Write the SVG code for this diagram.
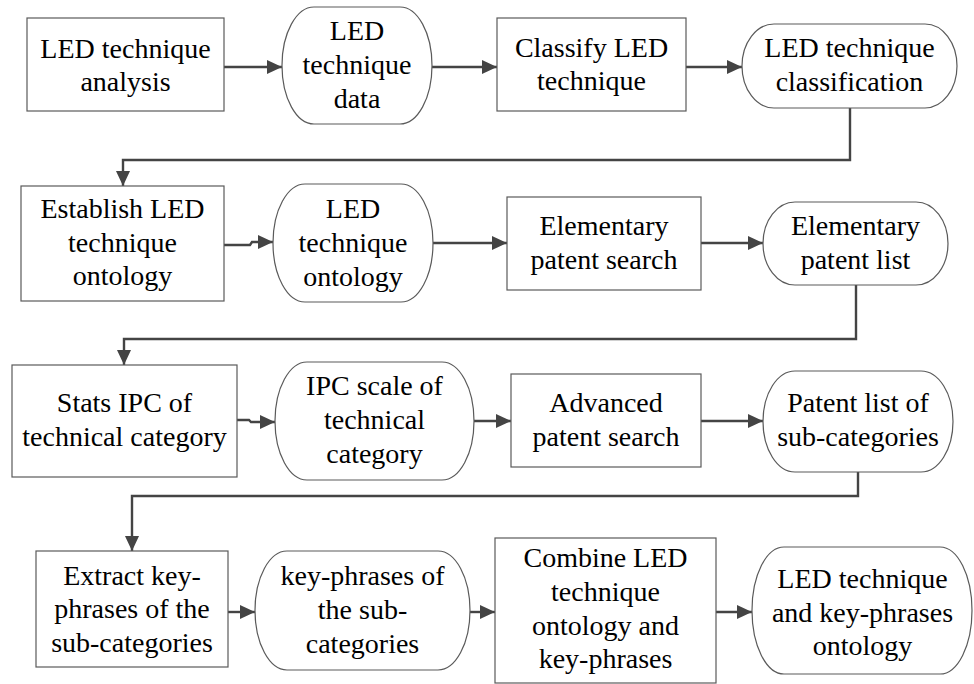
<svg xmlns="http://www.w3.org/2000/svg" width="974" height="684" viewBox="0 0 974 684">
  <style>
    .box { fill: #ffffff; stroke: #5a5a5a; stroke-width: 1.2; }
    .wire { fill: none; stroke: #444444; stroke-width: 2.4; }
  </style>
  <defs>
    <marker id="head" markerUnits="userSpaceOnUse" markerWidth="16" markerHeight="14" refX="15" refY="7" orient="auto">
      <path d="M0,0 L15,7 L0,14 Z" fill="#444444"/>
    </marker>
  </defs>
  <rect width="974" height="684" fill="#ffffff"/>

  <!-- connectors -->
  <g id="connectors">
    <path class="wire" d="M224,67 H282" marker-end="url(#head)"/>
    <path class="wire" d="M432,67 H497" marker-end="url(#head)"/>
    <path class="wire" d="M686,67 H742" marker-end="url(#head)"/>
    <path class="wire" d="M850,108 V160 H123 V186" marker-end="url(#head)"/>
    <path class="wire" d="M224,245 H250 L252,242 H273" marker-end="url(#head)"/>
    <path class="wire" d="M433,243 H507" marker-end="url(#head)"/>
    <path class="wire" d="M701,243 H763" marker-end="url(#head)"/>
    <path class="wire" d="M856,285 V339 H124 V365" marker-end="url(#head)"/>
    <path class="wire" d="M237,420 H249 L251,422 H275" marker-end="url(#head)"/>
    <path class="wire" d="M474,421 H511" marker-end="url(#head)"/>
    <path class="wire" d="M701,421 H763" marker-end="url(#head)"/>
    <path class="wire" d="M858,472 V496 H132 V551" marker-end="url(#head)"/>
    <path class="wire" d="M228,612 H255" marker-end="url(#head)"/>
    <path class="wire" d="M470,612 H495" marker-end="url(#head)"/>
    <path class="wire" d="M716,612 H752" marker-end="url(#head)"/>
  </g>

  <!-- row 1 -->
  <g id="led-technique-analysis">
    <rect class="box" x="27" y="18" width="197" height="93"/>
    <text x="125.5" y="58" font-size="28" text-anchor="middle" style="font-family:'Liberation Serif', serif">LED technique</text>
    <text x="125.5" y="91" font-size="28" text-anchor="middle" style="font-family:'Liberation Serif', serif">analysis</text>
  </g>
  <g id="led-technique-data">
    <path class="box" d="M314,7 H400 A32,58.5 0 0 1 400,124 H314 A32,58.5 0 0 1 314,7 Z"/>
    <text x="357" y="40" font-size="28" text-anchor="middle" style="font-family:'Liberation Serif', serif">LED</text>
    <text x="357" y="74" font-size="28" text-anchor="middle" style="font-family:'Liberation Serif', serif">technique</text>
    <text x="357" y="108" font-size="28" text-anchor="middle" style="font-family:'Liberation Serif', serif">data</text>
  </g>
  <g id="classify-led-technique">
    <rect class="box" x="497" y="18" width="189" height="93"/>
    <text x="591.5" y="57" font-size="28" text-anchor="middle" style="font-family:'Liberation Serif', serif">Classify LED</text>
    <text x="591.5" y="90" font-size="28" text-anchor="middle" style="font-family:'Liberation Serif', serif">technique</text>
  </g>
  <g id="led-technique-classification">
    <path class="box" d="M774,24 H925 A32,42 0 0 1 925,108 H774 A32,42 0 0 1 774,24 Z"/>
    <text x="849.5" y="57" font-size="28" text-anchor="middle" style="font-family:'Liberation Serif', serif">LED technique</text>
    <text x="849.5" y="91" font-size="28" text-anchor="middle" style="font-family:'Liberation Serif', serif">classification</text>
  </g>

  <!-- row 2 -->
  <g id="establish-led-technique-ontology">
    <rect class="box" x="21" y="186" width="203" height="115"/>
    <text x="122.5" y="218" font-size="28" text-anchor="middle" style="font-family:'Liberation Serif', serif">Establish LED</text>
    <text x="122.5" y="252" font-size="28" text-anchor="middle" style="font-family:'Liberation Serif', serif">technique</text>
    <text x="122.5" y="285" font-size="28" text-anchor="middle" style="font-family:'Liberation Serif', serif">ontology</text>
  </g>
  <g id="led-technique-ontology">
    <path class="box" d="M305,184 H401 A32,59 0 0 1 401,302 H305 A32,59 0 0 1 305,184 Z"/>
    <text x="353" y="218" font-size="28" text-anchor="middle" style="font-family:'Liberation Serif', serif">LED</text>
    <text x="353" y="252" font-size="28" text-anchor="middle" style="font-family:'Liberation Serif', serif">technique</text>
    <text x="353" y="286" font-size="28" text-anchor="middle" style="font-family:'Liberation Serif', serif">ontology</text>
  </g>
  <g id="elementary-patent-search">
    <rect class="box" x="507" y="197" width="194" height="93"/>
    <text x="604" y="235" font-size="28" text-anchor="middle" style="font-family:'Liberation Serif', serif">Elementary</text>
    <text x="604" y="269" font-size="28" text-anchor="middle" style="font-family:'Liberation Serif', serif">patent search</text>
  </g>
  <g id="elementary-patent-list">
    <path class="box" d="M795,202 H916 A32,41.5 0 0 1 916,285 H795 A32,41.5 0 0 1 795,202 Z"/>
    <text x="855.5" y="235" font-size="28" text-anchor="middle" style="font-family:'Liberation Serif', serif">Elementary</text>
    <text x="855.5" y="269" font-size="28" text-anchor="middle" style="font-family:'Liberation Serif', serif">patent list</text>
  </g>

  <!-- row 3 -->
  <g id="stats-ipc-of-technical-category">
    <rect class="box" x="12" y="365" width="225" height="112"/>
    <text x="124.5" y="412" font-size="28" text-anchor="middle" style="font-family:'Liberation Serif', serif">Stats IPC of</text>
    <text x="124.5" y="446" font-size="28" text-anchor="middle" style="font-family:'Liberation Serif', serif">technical category</text>
  </g>
  <g id="ipc-scale-of-technical-category">
    <path class="box" d="M307,362 H442 A32,59 0 0 1 442,480 H307 A32,59 0 0 1 307,362 Z"/>
    <text x="374.5" y="395" font-size="28" text-anchor="middle" style="font-family:'Liberation Serif', serif">IPC scale of</text>
    <text x="374.5" y="429" font-size="28" text-anchor="middle" style="font-family:'Liberation Serif', serif">technical</text>
    <text x="374.5" y="463" font-size="28" text-anchor="middle" style="font-family:'Liberation Serif', serif">category</text>
  </g>
  <g id="advanced-patent-search">
    <rect class="box" x="511" y="374" width="190" height="93"/>
    <text x="606" y="412" font-size="28" text-anchor="middle" style="font-family:'Liberation Serif', serif">Advanced</text>
    <text x="606" y="446" font-size="28" text-anchor="middle" style="font-family:'Liberation Serif', serif">patent search</text>
  </g>
  <g id="patent-list-of-sub-categories">
    <path class="box" d="M795,371 H921 A32,50.5 0 0 1 921,472 H795 A32,50.5 0 0 1 795,371 Z"/>
    <text x="858" y="412" font-size="28" text-anchor="middle" style="font-family:'Liberation Serif', serif">Patent list of</text>
    <text x="858" y="446" font-size="28" text-anchor="middle" style="font-family:'Liberation Serif', serif">sub-categories</text>
  </g>

  <!-- row 4 -->
  <g id="extract-key-phrases">
    <rect class="box" x="36" y="551" width="192" height="116"/>
    <text x="132" y="585" font-size="28" text-anchor="middle" style="font-family:'Liberation Serif', serif">Extract key-</text>
    <text x="132" y="618" font-size="28" text-anchor="middle" style="font-family:'Liberation Serif', serif">phrases of the</text>
    <text x="132" y="652" font-size="28" text-anchor="middle" style="font-family:'Liberation Serif', serif">sub-categories</text>
  </g>
  <g id="key-phrases-of-sub-categories">
    <path class="box" d="M287,551 H438 A32,59.5 0 0 1 438,670 H287 A32,59.5 0 0 1 287,551 Z"/>
    <text x="362.5" y="585" font-size="28" text-anchor="middle" style="font-family:'Liberation Serif', serif">key-phrases of</text>
    <text x="362.5" y="619" font-size="28" text-anchor="middle" style="font-family:'Liberation Serif', serif">the sub-</text>
    <text x="362.5" y="653" font-size="28" text-anchor="middle" style="font-family:'Liberation Serif', serif">categories</text>
  </g>
  <g id="combine-led-technique-ontology-and-key-phrases">
    <rect class="box" x="495" y="538" width="221" height="145"/>
    <text x="605.5" y="567" font-size="28" text-anchor="middle" style="font-family:'Liberation Serif', serif">Combine LED</text>
    <text x="605.5" y="601" font-size="28" text-anchor="middle" style="font-family:'Liberation Serif', serif">technique</text>
    <text x="605.5" y="635" font-size="28" text-anchor="middle" style="font-family:'Liberation Serif', serif">ontology and</text>
    <text x="605.5" y="668" font-size="28" text-anchor="middle" style="font-family:'Liberation Serif', serif">key-phrases</text>
  </g>
  <g id="led-technique-and-key-phrases-ontology">
    <path class="box" d="M784,547 H940 A32,63.5 0 0 1 940,674 H784 A32,63.5 0 0 1 784,547 Z"/>
    <text x="862.5" y="588" font-size="28" text-anchor="middle" style="font-family:'Liberation Serif', serif">LED technique</text>
    <text x="862.5" y="622" font-size="28" text-anchor="middle" style="font-family:'Liberation Serif', serif">and key-phrases</text>
    <text x="862.5" y="655" font-size="28" text-anchor="middle" style="font-family:'Liberation Serif', serif">ontology</text>
  </g>
</svg>
